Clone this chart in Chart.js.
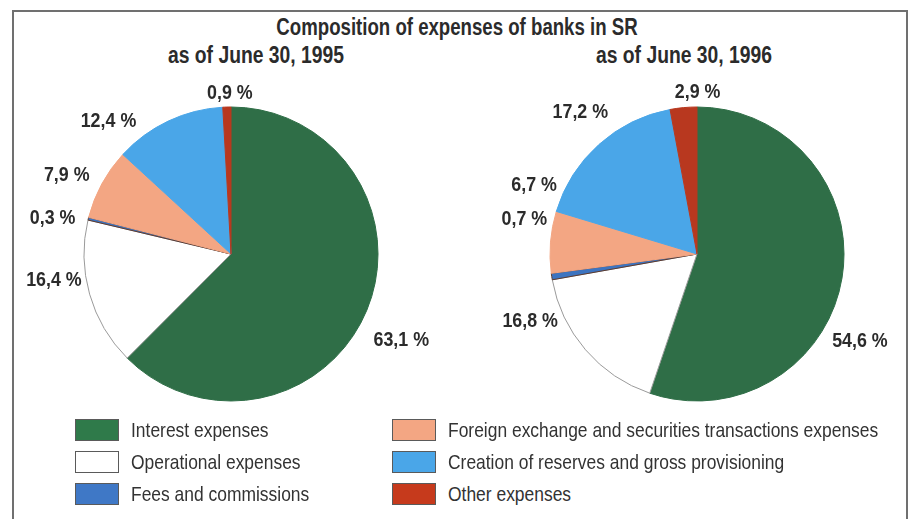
<!DOCTYPE html>
<html>
<head>
<meta charset="utf-8">
<script src="https://cdn.jsdelivr.net/npm/chart.js@4.4.1/dist/chart.umd.min.js"></script>
<style>
  html, body { margin: 0; padding: 0; background: #fff; }
  #wrap {
    position: relative; width: 913px; height: 519px; overflow: hidden; background: #fff;
    font-family: "Liberation Sans", Arial, sans-serif;
    color: #2b2b2b;
  }
  #frame {
    position: absolute; left: 12px; top: 10px; width: 896px; height: 530px;
    border: 2px solid #707070; border-bottom: none; box-sizing: border-box;
  }
  .head { position: absolute; font-weight: bold; white-space: nowrap; }
  #title { left: 457px; top: 27px; font-size: 23px; transform: translate(-50%, -50%) scaleX(0.81); }
  .sub { top: 55px; font-size: 23px; transform: translate(-50%, -50%) scaleX(0.84); }
  #sub1 { left: 256px; }
  #sub2 { left: 684px; }
  canvas.pie { position: absolute; }
  #pie1 { left: 0px; top: 74px; }
  #pie2 { left: 481px; top: 74px; }
  .lg { position: absolute; height: 22px; display: flex; align-items: center; white-space: nowrap; font-size: 21px; color: #333; }
  .lg .box { width: 44px; height: 22px; box-sizing: border-box; border: 1px solid #5a5a5a; margin-right: 12px; flex: none; }
  .lg span { display: inline-block; transform: scaleX(0.83); transform-origin: 0 50%; }
</style>
</head>
<body>
<div id="wrap">
  <div id="frame"></div>
  <div id="title" class="head">Composition of expenses of banks in SR</div>
  <div id="sub1" class="head sub"></div>
  <div id="sub2" class="head sub"></div>
  <canvas id="pie1" class="pie" width="462" height="360"></canvas>
  <canvas id="pie2" class="pie" width="432" height="360"></canvas>
  <div id="legend"></div>
</div>
<script>
// Expense categories, in drawing order (clockwise from 12 o'clock)
const categories = [
  "Interest expenses",
  "Operational expenses",
  "Fees and commissions",
  "Foreign exchange and securities transactions expenses",
  "Creation of reserves and gross provisioning",
  "Other expenses"
];
// Shares in % as of June 30, 1995 and June 30, 1996
const share1995 = [63.1, 16.4, 0.3, 7.9, 12.4, 0.9];
const share1996 = [54.6, 16.8, 0.7, 6.7, 17.2, 2.9];
const subtitles = ["as of June 30, 1995", "as of June 30, 1996"];

const fills   = ["#2f6e47", "#ffffff", "#3d74c0", "#f3a683", "#4aa6e8", "#b8381f"];
const strokes = ["#2f6e47", "#9a9a9a", "#5b3a30", "#f3a683", "#4aa6e8", "#b8381f"];
const legendFills = ["#2f7a4a", "#ffffff", "#3f78c6", "#f3a683", "#4aa6e8", "#c63a1c"];

document.getElementById("sub1").textContent = subtitles[0];
document.getElementById("sub2").textContent = subtitles[1];

const fmt = v => v.toFixed(1).replace(".", ",") + " %";

// Value labels placed outside each slice, along the slice's middle direction
const sliceLabels = {
  id: "sliceLabels",
  afterDatasetsDraw(chart, args, opts) {
    const meta = chart.getDatasetMeta(0);
    const values = chart.data.datasets[0].data;
    const ctx = chart.ctx;
    meta.data.forEach((arc, i) => {
      const p = arc.getProps(["x", "y", "startAngle", "endAngle", "outerRadius"], true);
      const a = (p.startAngle + p.endAngle) / 2 + opts.turn[i] * Math.PI / 180;
      const d = p.outerRadius + opts.gap[i];
      ctx.save();
      ctx.translate(p.x + Math.cos(a) * d, p.y + Math.sin(a) * d);
      ctx.scale(0.85, 1);
      ctx.font = 'bold 21px "Liberation Sans", Arial, sans-serif';
      ctx.fillStyle = "#2b2b2b";
      ctx.textAlign = "center";
      ctx.textBaseline = "middle";
      ctx.fillText(fmt(values[i]), 0, 0);
      ctx.restore();
    });
  }
};

function makePie(id, values, turn, gap) {
  return new Chart(document.getElementById(id), {
    type: "pie",
    data: {
      labels: categories,
      datasets: [{
        data: values,
        backgroundColor: fills,
        borderColor: strokes,
        borderWidth: 1
      }]
    },
    options: {
      responsive: false,
      animation: false,
      radius: 147,
      layout: { padding: 0 },
      plugins: {
        legend: { display: false },
        tooltip: { enabled: false },
        sliceLabels: { turn, gap }
      }
    },
    plugins: [sliceLabels]
  });
}

makePie("pie1", share1995, [4.5, 7.4, -2.4, -3, -17.3, 1.2], [44, 32, 35, 35, 34, 14]);
makePie("pie2", share1996, [18.9, 18.6, 20.1, 18.4, 2.5, 5.5], [38, 33, 29, 30, 37, 15]);

// Two-column legend
const legend = document.getElementById("legend");
const cols = [{ x: 75, rows: [0, 1, 2] }, { x: 392, rows: [3, 4, 5] }];
const rowTop = [419, 451, 483];
cols.forEach(c => {
  c.rows.forEach((k, r) => {
    const item = document.createElement("div");
    item.className = "lg";
    item.style.left = c.x + "px";
    item.style.top = rowTop[r] + "px";
    const box = document.createElement("div");
    box.className = "box";
    box.style.background = legendFills[k];
    const txt = document.createElement("span");
    txt.textContent = categories[k];
    item.appendChild(box);
    item.appendChild(txt);
    legend.appendChild(item);
  });
});
</script>
</body>
</html>
